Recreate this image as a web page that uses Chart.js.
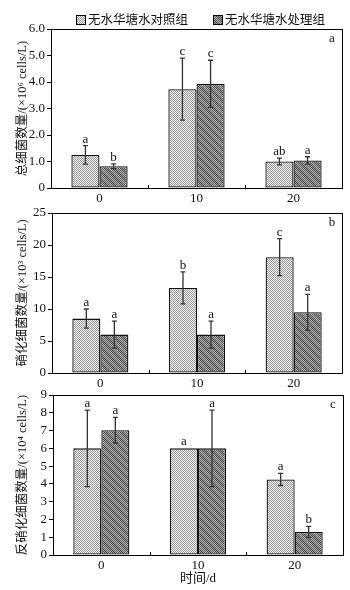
<!DOCTYPE html>
<html><head><meta charset="utf-8">
<script src="https://cdn.jsdelivr.net/npm/chart.js@4"></script>
<style>
html,body{margin:0;padding:0;background:#fff;}
#wrap{position:relative;width:350px;height:590px;background:#fff;}
canvas{position:absolute;left:0;top:0;}
</style></head><body>
<div id="wrap">
<canvas id="c1" width="350" height="590"></canvas>
<canvas id="c2" width="350" height="590"></canvas>
<canvas id="c3" width="350" height="590"></canvas>
</div>
<script>
// ---------- DATA ----------
const categories = ['0', '10', '20'];
const seriesNames = ['无水华塘水对照组', '无水华塘水处理组'];

const totalControl = [1.25, 3.73, 1.00];
const totalControlErr = [0.35, 1.17, 0.13];
const totalTreat = [0.82, 3.93, 1.04];
const totalTreatErr = [0.09, 0.89, 0.14];
const totalControlSig = ['a', 'c', 'ab'];
const totalTreatSig = ['b', 'c', 'a'];

const nitControl = [8.5, 13.3, 18.1];
const nitControlErr = [1.5, 2.5, 2.9];
const nitTreat = [6.0, 6.0, 9.5];
const nitTreatErr = [2.1, 2.1, 2.8];
const nitControlSig = ['a', 'b', 'c'];
const nitTreatSig = ['a', 'a', 'a'];

const denitControl = [6.0, 6.0, 4.25];
const denitControlErr = [2.15, 0, 0.34];
const denitTreat = [7.02, 6.0, 1.3];
const denitTreatErr = [0.72, 2.15, 0.31];
const denitControlSig = ['a', 'a', 'a'];
const denitTreatSig = ['a', 'a', 'b'];

const yTitles = ['总细菌数量/(×10⁶ cells/L)', '硝化细菌数量/(×10³ cells/L)', '反硝化细菌数量/(×10⁴ cells/L)'];
const panelLetters = ['a', 'b', 'c'];
const xTitle = '时间/d';

// ---------- STYLE ----------
const FONT = '"Liberation Serif", "Noto Sans CJK SC", serif';

function makePattern(kind) {
  const c = document.createElement('canvas');
  const n = 8;
  c.width = n; c.height = n;
  const g = c.getContext('2d');
  for (let y = 0; y < n; y++) for (let x = 0; x < n; x++) {
    let col;
    if (kind === 'ctrl') {
      col = ((x + y) % 2 === 0) ? '#9a9a9a' : '#f2f2f2';
    } else {
      const band = (((x - y) % 8) + 8) % 8 < 4;
      const chk = (x + y) % 2 === 0;
      col = band ? (chk ? '#4a4a4a' : '#9a9a9a') : (chk ? '#666' : '#b0b0b0');
    }
    g.fillStyle = col; g.fillRect(x, y, 1, 1);
  }
  return g.createPattern(c, 'repeat');
}
const ctrlPat = makePattern('ctrl');
const treatPat = makePattern('treat');

const extrasPlugin = {
  id: 'extras',
  afterDatasetsDraw(chart) {
    const ctx = chart.ctx;
    const ys = chart.scales.y;
    const ca = chart.chartArea;
    ctx.save();
    chart.data.datasets.forEach((ds, di) => {
      const meta = chart.getDatasetMeta(di);
      meta.data.forEach((el, i) => {
        const v = ds.data[i], e = ds.errors[i];
        const x = el.x;
        const yt = ys.getPixelForValue(v + e);
        const yb = ys.getPixelForValue(v - e);
        if (e > 0) {
          ctx.strokeStyle = '#333';
          ctx.lineWidth = 1.3;
          ctx.beginPath();
          ctx.moveTo(x, yt); ctx.lineTo(x, yb);
          ctx.moveTo(x - 2.5, yt); ctx.lineTo(x + 2.5, yt);
          ctx.moveTo(x - 2.5, yb); ctx.lineTo(x + 2.5, yb);
          ctx.stroke();
        }
        ctx.fillStyle = '#111';
        ctx.font = '13px ' + FONT;
        ctx.textAlign = 'center';
        ctx.textBaseline = 'alphabetic';
        ctx.fillText(ds.sigs[i], x, yt - 3);
      });
    });
    ctx.strokeStyle = '#000';
    ctx.lineWidth = 1;
    ctx.strokeRect(Math.round(ca.left) + 0.5, Math.round(ca.top) + 0.5, Math.round(ca.right - ca.left), Math.round(ca.bottom - ca.top));
    const w = (ca.right - ca.left) / categories.length;
    ctx.beginPath();
    for (let k = 1; k < categories.length; k++) {
      const x = Math.round(ca.left + w * k) + 0.5;
      ctx.moveTo(x, ca.bottom); ctx.lineTo(x, ca.bottom - 3);
    }
    ctx.stroke();
    ctx.fillStyle = '#111';
    ctx.font = '13px ' + FONT;
    ctx.textAlign = 'center';
    ctx.textBaseline = 'middle';
    ctx.fillText(chart.options.plugins.extras.letter, ca.right - 10, ca.top + 10);
    if (chart.options.plugins.extras.legend) {
      const items = [[76, ctrlPat, seriesNames[0]], [213, treatPat, seriesNames[1]]];
      items.forEach(([x, pat, txt]) => {
        ctx.fillStyle = pat;
        ctx.fillRect(x, 15, 10, 10);
        ctx.strokeStyle = '#000';
        ctx.lineWidth = 1;
        ctx.strokeRect(x + 0.5, 15.5, 9, 9);
        ctx.fillStyle = '#111';
        ctx.font = '12.5px ' + FONT;
        ctx.textAlign = 'left';
        ctx.textBaseline = 'middle';
        ctx.fillText(txt, x + 12, 20.5);
      });
    }
    ctx.restore();
  }
};

function makePanel(id, o) {
  return new Chart(document.getElementById(id), {
    type: 'bar',
    data: {
      labels: categories,
      datasets: [
        { label: seriesNames[0], data: o.ctrl, errors: o.ctrlErr, sigs: o.ctrlSig,
          backgroundColor: ctrlPat, borderColor: '#111', borderWidth: 1.3, borderSkipped: false },
        { label: seriesNames[1], data: o.treat, errors: o.treatErr, sigs: o.treatSig,
          backgroundColor: treatPat, borderColor: '#111', borderWidth: 1.3, borderSkipped: false }
      ]
    },
    options: {
      responsive: false,
      animation: false,
      events: [],
      layout: { padding: { top: o.top, right: 350 - o.right, left: 0, bottom: 0 } },
      datasets: { bar: { categoryPercentage: 0.58, barPercentage: 1.0 } },
      plugins: {
        legend: { display: false },
        tooltip: { enabled: false },
        extras: { letter: o.letter, legend: !!o.legend }
      },
      scales: {
        x: {
          afterFit: s => { s.height = 590 - o.bottom; },
          grid: { display: false, drawTicks: false },
          border: { display: true, color: '#000', width: 1 },
          ticks: { color: '#111', padding: 3, font: { family: FONT, size: 13 } },
          title: o.xTitle ? { display: true, text: o.xTitle, color: '#111', font: { family: FONT, size: 13 }, padding: { top: 0, bottom: 4 } } : { display: false }
        },
        y: {
          min: 0, max: o.max,
          afterFit: s => { s.width = o.left; },
          grid: { drawOnChartArea: false, drawTicks: true, tickLength: 4, color: '#000' },
          border: { display: true, color: '#000', width: 1 },
          ticks: { stepSize: o.step, autoSkip: false, color: '#111', padding: 2, font: { family: FONT, size: 13 },
                   callback: v => (v === 0 ? '0' : (o.dec ? v.toFixed(1) : String(v))) },
          title: { display: true, text: o.yTitle, color: '#111', font: { family: FONT, size: 12.5 }, padding: { top: 15, bottom: 0 } }
        }
      }
    },
    plugins: [extrasPlugin]
  });
}

makePanel('c1', { top: 29, bottom: 188, left: 51, right: 342, max: 6, step: 1, dec: true,
  ctrl: totalControl, ctrlErr: totalControlErr, ctrlSig: totalControlSig,
  treat: totalTreat, treatErr: totalTreatErr, treatSig: totalTreatSig,
  yTitle: yTitles[0], letter: panelLetters[0], legend: true });
makePanel('c2', { top: 213, bottom: 373, left: 52, right: 342, max: 25, step: 5, dec: false,
  ctrl: nitControl, ctrlErr: nitControlErr, ctrlSig: nitControlSig,
  treat: nitTreat, treatErr: nitTreatErr, treatSig: nitTreatSig,
  yTitle: yTitles[1], letter: panelLetters[1] });
makePanel('c3', { top: 395, bottom: 555, left: 53, right: 343, max: 9, step: 1, dec: false,
  ctrl: denitControl, ctrlErr: denitControlErr, ctrlSig: denitControlSig,
  treat: denitTreat, treatErr: denitTreatErr, treatSig: denitTreatSig,
  yTitle: yTitles[2], letter: panelLetters[2], xTitle: xTitle });
</script>
</body></html>
